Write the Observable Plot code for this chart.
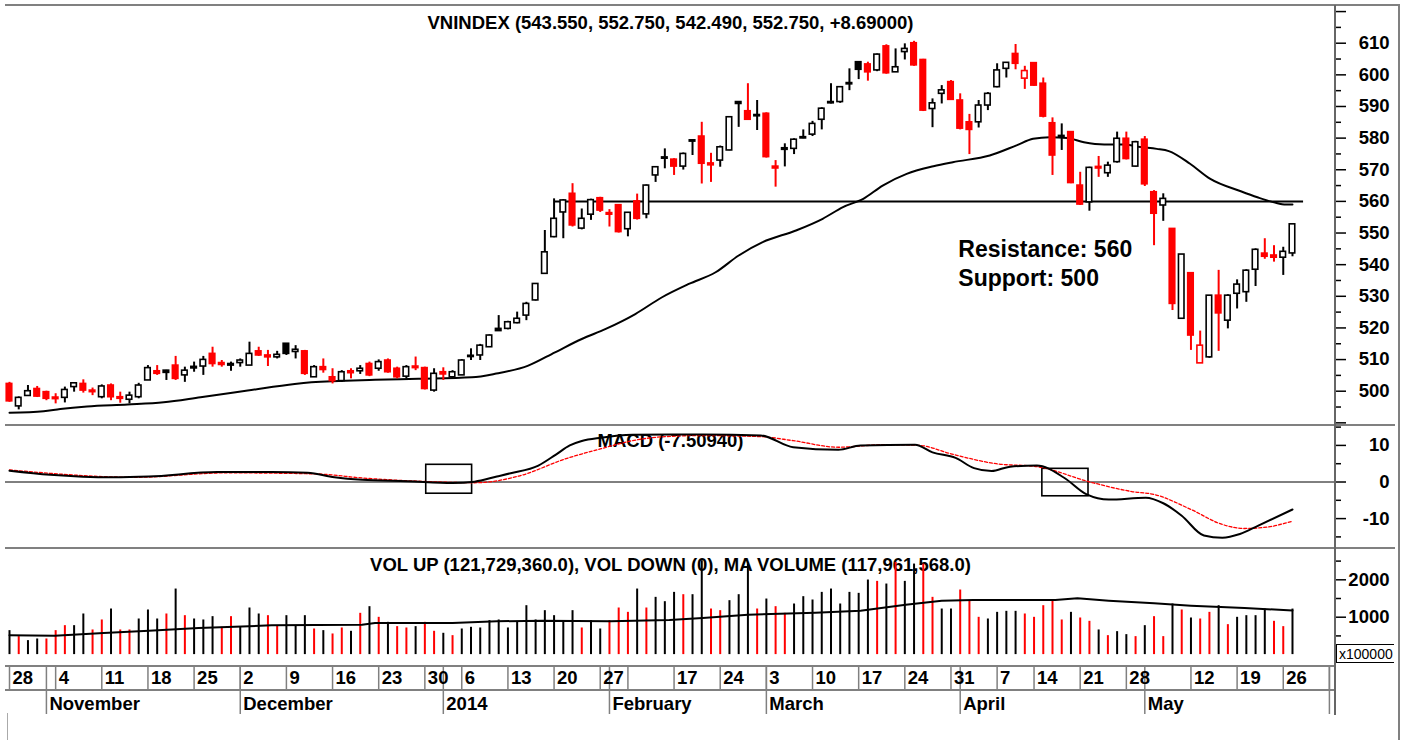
<!DOCTYPE html>
<html><head><meta charset="utf-8">
<script src="https://cdn.jsdelivr.net/npm/d3@7"></script>
<script src="https://cdn.jsdelivr.net/npm/@observablehq/plot@0.6"></script>
<style>
body{margin:0;background:#fff;}
#chart{position:relative;width:1408px;height:740px;background:#fff;overflow:hidden;font-family:"Liberation Sans",Arial,sans-serif;}
#chart .p{position:absolute;left:0;}
#chart .ln{position:absolute;background:#808080;}
#unit{position:absolute;left:1336px;top:644px;width:58px;height:19px;border:1px solid #000;border-right:none;font-size:14px;line-height:19px;padding-left:2px;box-sizing:border-box;}
</style></head><body><div id="chart"></div><script>
// ---- price candles (index 0 = 28 Oct 2013 ... 139 = last bar) ----
const opens = [502.3,495.2,498.5,500.7,499.7,498.0,497.9,501.3,502.3,500.2,498.1,501.8,498.1,497.3,498.1,503.4,506.3,506.5,508.1,505.0,507.2,507.8,511.8,508.9,508.1,508.9,508.1,512.6,511.3,510.7,515.0,512.4,512.6,504.4,507.6,504.4,503.2,506.3,506.3,508.6,507.1,509.7,507.1,504.6,507.8,507.3,500.2,506.0,504.4,505.0,510.8,511.3,513.9,519.7,519.7,521.5,523.9,528.7,537.1,548.7,556.5,562.4,551.4,555.8,561.0,556.3,558.8,551.2,560.0,555.9,568.2,573.5,573.2,571.0,579.3,580.5,572.0,572.9,576.1,591.4,588.5,586.9,587.7,571.0,576.3,576.6,580.3,581.1,585.8,591.4,591.4,597.4,604.0,603.3,601.4,609.0,600.8,607.2,610.0,604.7,589.2,594.0,597.7,591.9,585.0,585.0,590.3,596.1,601.9,606.6,598.8,603.7,597.2,584.7,580.2,581.9,565.0,559.7,570.9,568.9,572.4,579.8,571.0,579.5,562.9,558.7,551.3,522.9,537.3,508.8,510.7,530.2,522.3,530.8,531.3,538.4,543.5,542.9,542.2,543.55];
const highs = [502.8,498.2,501.8,501.5,500.0,499.2,501.3,502.5,503.6,501.0,502.0,502.3,499.7,499.7,502.5,508.1,508.1,506.6,511.0,507.6,509.2,511.0,513.9,509.7,509.2,510.2,515.5,513.9,512.9,512.6,515.0,514.4,512.9,508.1,510.2,507.1,506.5,507.1,508.1,509.2,509.9,510.2,507.6,508.1,510.8,507.6,507.1,507.4,506.5,510.0,513.4,514.8,517.8,523.9,522.1,525.0,528.1,534.0,550.8,560.8,560.6,565.6,557.6,560.7,561.3,557.4,559.0,556.5,562.3,565.2,571.0,576.6,573.5,575.3,579.3,585.0,575.2,577.5,586.8,591.4,597.2,591.9,588.0,572.9,578.2,579.8,582.6,585.3,589.6,597.2,596.3,601.9,604.2,604.0,606.6,609.5,608.2,609.8,610.6,604.9,592.4,596.6,598.2,594.0,587.5,591.9,594.4,603.5,603.8,609.6,602.7,603.8,599.0,586.4,584.5,582.0,569.2,570.8,574.2,572.4,581.9,581.9,579.0,580.5,563.4,562.4,551.3,543.2,537.3,519.0,530.2,538.2,530.5,535.2,538.4,545.0,548.2,546.0,545.5,552.75];
const lows = [496.5,494.1,498.5,498.0,497.0,496.0,496.3,499.7,499.4,498.6,497.6,497.0,496.2,496.0,497.6,503.4,505.0,503.4,503.4,502.8,506.0,505.0,507.6,507.6,506.3,507.6,508.1,511.0,507.8,510.2,511.3,510.2,505.0,504.4,505.7,502.3,502.8,503.9,505.3,504.6,506.3,505.7,503.9,503.9,506.5,500.4,499.7,503.4,504.0,505.0,509.7,509.7,513.9,519.0,519.4,521.3,522.3,528.5,537.0,548.5,548.2,551.9,551.0,554.0,556.5,551.9,550.0,548.8,554.1,554.5,566.0,570.3,568.2,569.9,574.5,565.5,566.0,570.8,576.0,583.4,585.6,582.4,573.7,564.5,570.9,574.8,579.8,580.5,582.6,590.8,591.0,595.0,598.5,598.0,601.0,600.2,600.8,604.7,602.7,588.4,583.3,590.8,591.9,582.6,574.8,583.2,588.7,595.9,599.0,601.6,595.4,596.4,586.4,568.2,576.1,565.6,558.7,556.9,567.6,567.6,572.1,573.1,570.8,564.7,546.0,553.7,525.5,522.9,512.9,508.8,510.4,512.6,519.7,526.0,528.1,533.1,541.7,540.8,536.6,542.49];
const closes = [496.8,497.9,500.0,498.3,497.6,497.5,500.4,502.5,500.2,499.7,501.5,498.1,497.6,498.6,501.8,507.3,505.5,505.8,503.9,506.5,507.7,509.9,508.6,508.3,508.6,509.7,511.8,511.3,510.7,511.5,511.8,513.1,505.5,507.6,506.7,503.2,506.0,505.7,507.1,505.0,509.2,506.0,504.4,507.6,507.3,500.7,505.5,505.3,506.0,509.7,511.2,514.4,517.6,519.0,521.8,522.9,527.6,533.9,543.9,554.5,560.3,552.4,554.5,560.4,557.1,555.8,550.3,556.4,554.5,565.0,570.8,573.9,571.0,575.0,578.9,571.9,571.4,577.1,586.6,590.8,585.8,587.3,574.0,570.4,576.8,579.5,579.9,584.5,589.3,591.0,596.1,597.0,601.6,600.8,606.4,600.5,602.4,608.2,603.0,588.7,591.0,595.1,592.1,583.0,582.6,590.3,594.0,601.4,603.8,603.5,601.2,596.6,586.8,574.5,580.7,565.8,559.0,570.6,570.4,571.3,579.8,573.4,578.7,565.4,556.1,560.8,527.6,543.2,517.6,514.4,530.2,524.6,530.2,533.7,538.1,544.7,542.5,542.2,544.06,552.75];
// volume in units of 100,000 shares
const volumes = [641,481,374,418,418,641,774,774,1086,659,926,1219,659,659,952,1193,952,1086,1753,1041,952,926,1015,730,1015,730,1246,1086,1041,774,1041,774,1041,685,641,552,712,623,1104,1282,997,863,748,712,748,863,623,570,507,685,730,712,908,926,712,863,1308,926,1175,1041,863,1175,712,908,685,908,1246,1130,1753,1246,1531,1415,1664,1602,1602,2510,1219,1175,1442,1602,2421,1219,1486,1282,1104,1353,1549,1460,1664,1753,1353,1664,1638,1994,1958,1887,2465,1958,2421,2421,1531,1219,1219,1727,1442,997,952,1130,1157,1157,1086,997,1308,1442,926,1130,979,890,659,507,614,534,481,774,1015,481,1353,1193,979,952,1130,1308,801,997,1041,1041,1219,890,748,1217.2936];
// moving average of price
const maIdx = [0,3.7,5.5,8.4,12.8,16.7,20.7,25.8,30.9,32.7,39.6,44.3,50.1,52.6,56.2,59.1,62,64.6,67.8,70.7,73.6,76.5,79,81.6,85.2,88.1,90.3,92.5,94.6,97.2,100.1,102.2,106.2,109.1,110.9,112.7,114.6,116.4,118.6,120.7,122.5,124.3,125.6,127.9,130.1,133.4,135.2,137,138.3,139];
const maVal = [493.2,493.7,494.4,495.2,495.8,496.5,498.1,500.2,502.3,502.8,503.6,503.9,504.4,505.5,508.1,512.3,516.5,519.7,524.4,529.7,533.9,537.6,542.9,547.1,550.8,554.5,558.2,560.8,565,568.7,571.1,572.4,574.5,577.7,579.8,580.3,580.0,578.7,578,578,577.2,576.6,575.9,571.9,567.1,563.2,561.3,559.7,559,559];
// MACD and signal
const macdIdx = [0,4.4,11.2,15.1,22.5,28.4,32.3,35.2,38.2,43.1,48,50.4,52.8,54.3,57.3,59.2,60.7,62,64.1,67.5,72,75.1,81.4,84.9,89.8,92.2,98.1,100,102.5,104.5,106.4,108.4,111.3,114.3,116.7,119.1,123.1,125,127,129.4,131.4,133.3,135.3,139];
const macdVal = [3.1,2.0,1.3,1.5,2.7,2.7,2.5,1.3,0.6,0.2,-0.3,0.1,1.5,2.4,4.5,7.5,10.0,11.2,12.1,12.9,13.0,13.0,12.7,9.5,8.8,10.0,10.2,8.1,6.6,3.8,3.0,4.2,4.5,1.1,-3.4,-4.8,-4.3,-5.8,-9.2,-14.6,-15.2,-14.2,-11.9,-7.5094];
const sigIdx = [0,13.7,23.5,33.3,38.2,45.5,50.4,55.3,60.2,64.1,67.5,71,75.1,81.4,84.9,89.8,94.7,98.6,102,106.9,111.3,117.2,121.6,124,128,131.4,133.8,136.3,139];
const sigVal = [3.3,1.3,2.5,2.2,1.1,0.1,-0.2,1.7,6.3,9.1,11.3,12.4,12.7,12.4,11.3,9.5,10.2,10.0,7.7,5.0,4.2,-0.1,-2.6,-3.4,-7.5,-11.6,-12.7,-12.3,-10.7];
// moving average of volume
const volMaIdx = [0,4.9,10.2,15.1,20.5,24.4,28.4,38.2,39.6,48,52.8,57.7,65.1,71.5,75.1,80,87.3,92.2,97.1,101,104.4,113.3,115.7,119.1,124,128,133.8,139];
const volMaVal = [520,507,578,641,712,748,783,801,845,845,890,908,890,926,979,1068,1121,1175,1335,1442,1460,1460,1504,1442,1371,1308,1246,1179.61568];
// annotations
const resistance = 560, support = 500;
const resFrom = 59.1, resTo = 140.2;
const boxX1 = [45.15, 111.9], boxX2 = [50.12, 116.9], boxY1 = [-3.2, -3.9], boxY2 = [4.7, 3.6];
const noteIdx = [102.8, 102.8], notePrice = [544.8, 535.6];
// x axis labels
const dayIdx = [0,5,10,15,20,25,30,35,40,45,49,54,59,64,67,72,77,82,87,92,97,102,107,111,116,121,128,133,138,143];
const dayLab = ["28","4","11","18","25","2","9","16","23","30","6","13","20","27","","17","24","3","10","17","24","31","7","14","21","28","12","19","26",""];
const monthIdx = [4,25,47,65,82,103,123,143];
const monthLab = ["November","December","2014","February","March","April","May",""];
const priceMajor = d3.range(490, 621, 10), priceMinor = d3.range(495, 621, 10);
const macdMajor = [-10, 0, 10], macdMinor = [-15, -5, 5, 15];
const volMajor = [1000, 2000], volMinor = [500, 1500, 2500];

// ---------- build ----------
const W = 1408, XL = 5, XR = 1335;
const xDomain = [-0.433, 143.66];
const font = "'Liberation Sans', Arial, sans-serif";
const baseStyle = {fontFamily: font, fontSize: "18.5px", fontWeight: "bold", background: "transparent", color: "#000"};

const candles = opens.map((o, i) => {
  const c = closes[i];
  const up = i > 0 ? c >= closes[i - 1] : false;
  const col = up ? "#000000" : "#ff0000";
  return {i, o, h: highs[i], l: lows[i], c, lo: Math.min(o, c), hi: Math.max(o, c), col, fill: c > o ? "#ffffff" : col, v: volumes[i]};
});
// volume bar colour follows the previous session's up/down state (as drawn in the source chart)
candles.forEach((d, i) => { d.vcol = i === 0 ? "#000000" : candles[i - 1].col; });
const last = candles[candles.length - 1], prev = candles[candles.length - 2];
const ma = maIdx.map((x, k) => ({x, y: maVal[k]}));
const macd = macdIdx.map((x, k) => ({x, y: macdVal[k]}));
const sig = sigIdx.map((x, k) => ({x, y: sigVal[k]}));
const volMa = volMaIdx.map((x, k) => ({x, y: volMaVal[k]}));
const boxes = boxX1.map((x1, k) => ({x1, x2: boxX2[k], y1: boxY1[k], y2: boxY2[k]}));
const notes = [{x: noteIdx[0], y: notePrice[0], t: `Resistance: ${resistance}`}, {x: noteIdx[1], y: notePrice[1], t: `Support: ${support}`}];
const days = dayIdx.map((x, k) => ({x, t: dayLab[k]}));
const months = monthIdx.map((x, k) => ({x, t: monthLab[k]}));

const priceTitle = `VNINDEX (${last.o.toFixed(3)}, ${last.h.toFixed(3)}, ${last.l.toFixed(3)}, ${last.c.toFixed(3)}, +${(last.c - prev.c).toFixed(5)})`;
const macdTitle = `MACD (${macdVal[macdVal.length - 1].toFixed(5)})`;
const f1 = v => v === 0 ? "0" : d3.format(",.1f")(v);
const lastUp = last.c >= prev.c;
const volTitle = `VOL UP (${f1(lastUp ? Math.round(last.v * 1e5) : 0)}), VOL DOWN (${f1(lastUp ? 0 : Math.round(last.v * 1e5))}), MA VOLUME (${f1(Math.round(volMaVal[volMaVal.length - 1] * 1e5))})`;

const rightAxes = (minor, major, fmt) => [
  Plot.axisY({anchor: "right", ticks: minor, tickSize: 5, tickFormat: () => "", stroke: "#000", strokeWidth: 1.5}),
  Plot.axisY({anchor: "right", ticks: major, tickSize: 10, tickPadding: 44, textAnchor: "end", tickFormat: fmt, stroke: "#000", strokeWidth: 1.5, fill: "#000"})
];

const price = Plot.plot({
  width: W, height: 420, marginLeft: XL, marginRight: W - XR, marginTop: 0, marginBottom: 0,
  x: {domain: xDomain, axis: null},
  y: {domain: [489.16, 621.92]},
  color: {type: "identity"},
  style: baseStyle,
  marks: [
    Plot.text([priceTitle], {text: d => d, frameAnchor: "top", lineAnchor: "middle", dy: 18, fill: "#000"}),
    Plot.line(ma, {x: "x", y: "y", stroke: "#000", strokeWidth: 2, curve: "monotone-x"}),
    Plot.ruleY([resistance], {x1: resFrom, x2: resTo, stroke: "#000", strokeWidth: 2}),
    Plot.ruleX(candles, {x: "i", y1: "l", y2: "h", stroke: d => d.col, strokeWidth: 2}),
    Plot.rect(candles, {x1: d => d.i - 0.3, x2: d => d.i + 0.3, y1: "lo", y2: "hi", fill: d => d.fill, stroke: d => d.col, strokeWidth: 1.6}),
    Plot.text(notes, {x: "x", y: "y", text: "t", textAnchor: "start", fontSize: 23, fill: "#000"}),
    ...rightAxes(priceMinor, priceMajor, d => (d >= 500 && d <= 610) ? String(d) : "")
  ]
});

const macdPlot = Plot.plot({
  width: W, height: 123, marginLeft: XL, marginRight: W - XR, marginTop: 0, marginBottom: 0,
  x: {domain: xDomain, axis: null},
  y: {domain: [-18.17, 15.44]},
  style: baseStyle,
  marks: [
    Plot.text([macdTitle], {text: d => d, frameAnchor: "top", lineAnchor: "middle", dy: 16, fill: "#000"}),
    Plot.ruleY([0], {stroke: "#000", strokeWidth: 1}),
    Plot.rect(boxes, {x1: "x1", x2: "x2", y1: "y1", y2: "y2", fill: "none", stroke: "#000", strokeWidth: 1.6}),
    Plot.line(sig, {x: "x", y: "y", stroke: "#ff0000", strokeWidth: 1.3, strokeDasharray: "3,2", curve: "monotone-x"}),
    Plot.line(macd, {x: "x", y: "y", stroke: "#000", strokeWidth: 2, curve: "monotone-x"}),
    ...rightAxes(macdMinor, macdMajor, d => String(d))
  ]
});

const volPlot = Plot.plot({
  width: W, height: 118, marginLeft: XL, marginRight: W - XR, marginTop: 0, marginBottom: 0,
  x: {domain: xDomain, axis: null},
  y: {domain: [-318, 2837]},
  color: {type: "identity"},
  style: baseStyle,
  marks: [
    Plot.text([volTitle], {text: d => d, frameAnchor: "top", lineAnchor: "middle", dy: 17, fill: "#000"}),
    Plot.ruleX(candles, {x: "i", y1: 0, y2: "v", stroke: d => d.vcol, strokeWidth: 2}),
    Plot.line(volMa, {x: "x", y: "y", stroke: "#000", strokeWidth: 2}),
    ...rightAxes(volMinor, volMajor, d => String(d))
  ]
});

const dayRow = Plot.plot({
  width: XR, height: 24, marginLeft: XL, marginRight: 0, marginTop: 0, marginBottom: 0,
  x: {domain: xDomain, axis: null},
  style: baseStyle,
  marks: [
    Plot.ruleX(days, {x: "x", stroke: "#808080", strokeWidth: 1.5}),
    Plot.ruleX(months, {x: "x", stroke: "#808080", strokeWidth: 1.5}),
    Plot.text(days.filter(d => d.t), {x: "x", text: "t", textAnchor: "start", dx: 3, frameAnchor: "middle", fill: "#000"})
  ]
});

const monthRow = Plot.plot({
  width: XR, height: 24, marginLeft: XL, marginRight: 0, marginTop: 0, marginBottom: 0,
  x: {domain: xDomain, axis: null},
  style: baseStyle,
  marks: [
    Plot.ruleX(months, {x: "x", stroke: "#808080", strokeWidth: 1.5}),
    Plot.text(months.filter(d => d.t), {x: "x", text: "t", textAnchor: "start", dx: 3, frameAnchor: "middle", dy: 2, fill: "#000"})
  ]
});

const chart = document.getElementById("chart");
function place(el, top) { const d = document.createElement("div"); d.className = "p"; d.style.top = top + "px"; d.appendChild(el); chart.appendChild(d); }
place(price, 5);
place(macdPlot, 425);
place(volPlot, 548);
place(dayRow, 666);
place(monthRow, 690);
function line(l, t, w, h, c) { const d = document.createElement("div"); d.className = "ln"; Object.assign(d.style, {left: l + "px", top: t + "px", width: w + "px", height: h + "px"}); if (c) d.style.background = c; chart.appendChild(d); }
line(5, 4, 1395, 2);
line(5, 424, 1390, 2);
line(5, 547, 1390, 2);
line(5, 665, 1331, 2);
line(5, 689, 1331, 2);
line(1334, 5, 2, 710, "#666");
line(1398, 5, 2, 735);
line(7, 713, 1, 27, "#aaa");
const u = document.createElement("div"); u.id = "unit"; u.textContent = "x100000"; chart.appendChild(u);
</script></body></html>
